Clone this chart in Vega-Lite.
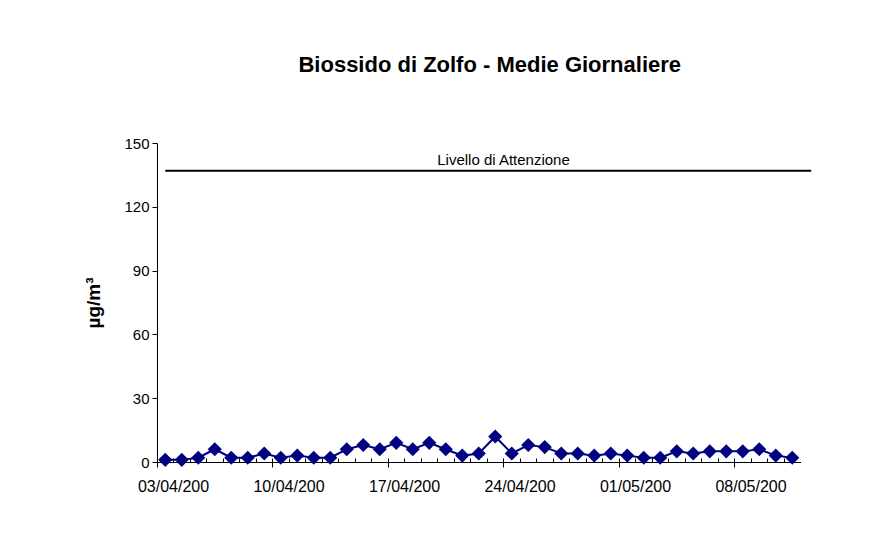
{
  "$schema": "https://vega.github.io/schema/vega-lite/v6.json",
  "autosize": "none",
  "width": 643.5,
  "height": 319,
  "padding": {"left": 157, "top": 143, "right": 82.5, "bottom": 79},
  "background": "white",
  "config": {
    "font": "Liberation Sans",
    "view": {"stroke": null},
    "axis": {"grid": false, "domainColor": "black", "tickColor": "black", "labelColor": "black", "titleColor": "black", "domainWidth": 1, "tickWidth": 1}
  },
  "title": {
    "text": "Biossido di Zolfo - Medie Giornaliere",
    "fontSize": 22,
    "fontWeight": "bold",
    "anchor": "middle",
    "frame": "group",
    "offset": 42,
    "baseline": "alphabetic",
    "dx": 11,
    "color": "black"
  },
  "datasets": {
    "so2": [
      {"data": "03/04/200", "valore": 1},
      {"data": "04/04/200", "valore": 1},
      {"data": "05/04/200", "valore": 2},
      {"data": "06/04/200", "valore": 6},
      {"data": "07/04/200", "valore": 2},
      {"data": "08/04/200", "valore": 2},
      {"data": "09/04/200", "valore": 4},
      {"data": "10/04/200", "valore": 2},
      {"data": "11/04/200", "valore": 3},
      {"data": "12/04/200", "valore": 2},
      {"data": "13/04/200", "valore": 2},
      {"data": "14/04/200", "valore": 6},
      {"data": "15/04/200", "valore": 8},
      {"data": "16/04/200", "valore": 6},
      {"data": "17/04/200", "valore": 9},
      {"data": "18/04/200", "valore": 6},
      {"data": "19/04/200", "valore": 9},
      {"data": "20/04/200", "valore": 6},
      {"data": "21/04/200", "valore": 3},
      {"data": "22/04/200", "valore": 4},
      {"data": "23/04/200", "valore": 12},
      {"data": "24/04/200", "valore": 4},
      {"data": "25/04/200", "valore": 8},
      {"data": "26/04/200", "valore": 7},
      {"data": "27/04/200", "valore": 4},
      {"data": "28/04/200", "valore": 4},
      {"data": "29/04/200", "valore": 3},
      {"data": "30/04/200", "valore": 4},
      {"data": "01/05/200", "valore": 3},
      {"data": "02/05/200", "valore": 2},
      {"data": "03/05/200", "valore": 2},
      {"data": "04/05/200", "valore": 5},
      {"data": "05/05/200", "valore": 4},
      {"data": "06/05/200", "valore": 5},
      {"data": "07/05/200", "valore": 5},
      {"data": "08/05/200", "valore": 5},
      {"data": "09/05/200", "valore": 6},
      {"data": "10/05/200", "valore": 3},
      {"data": "11/05/200", "valore": 2}
    ],
    "soglia": [
      {"inizio": 0.5, "fine": 39.65, "livello": 137, "pos": 21, "etichetta": "Livello di Attenzione"}
    ]
  },
  "resolve": {"scale": {"x": "independent"}, "axis": {"x": "independent"}},
  "layer": [
    {
      "data": {"name": "so2"},
      "mark": {"type": "line", "color": "#000080", "strokeWidth": 2},
      "encoding": {
        "x": {
          "field": "data", "type": "ordinal", "sort": null,
          "scale": {"type": "band", "paddingInner": 0, "paddingOuter": 0},
          "axis": {"orient": "bottom", "title": null, "labels": false, "bandPosition": 0, "tickSize": -4, "domain": true}
        },
        "y": {
          "field": "valore", "type": "quantitative",
          "scale": {"domain": [0, 150], "nice": false, "zero": true},
          "axis": {"values": [0, 30, 60, 90, 120, 150], "tickSize": 5, "labelPadding": 3, "labelFontSize": 15, "title": "µg/m³", "titleFontSize": 19, "titleFontWeight": "bold", "titleX": -64, "titleY": 159.5, "titleAngle": -90, "titleBaseline": "middle", "titleAlign": "center"}
        }
      }
    },
    {
      "data": {"name": "so2"},
      "mark": {"type": "point", "shape": "diamond", "filled": true, "size": 200, "color": "#000080", "opacity": 1},
      "encoding": {
        "x": {
          "field": "data", "type": "ordinal", "sort": null,
          "scale": {"type": "band", "paddingInner": 0, "paddingOuter": 0},
          "axis": {"orient": "bottom", "title": null, "values": ["03/04/200", "10/04/200", "17/04/200", "24/04/200", "01/05/200", "08/05/200"], "bandPosition": 0, "labelOffset": 8.25, "tickSize": 5, "labelPadding": 11, "labelFontSize": 16, "labelAngle": 0, "domain": true}
        },
        "y": {
          "field": "valore", "type": "quantitative",
          "scale": {"domain": [0, 150], "nice": false, "zero": true},
          "axis": {"values": [0, 30, 60, 90, 120, 150], "tickSize": 5, "labelPadding": 3, "labelFontSize": 15, "title": "µg/m³", "titleFontSize": 19, "titleFontWeight": "bold", "titleX": -64, "titleY": 159.5, "titleAngle": -90, "titleBaseline": "middle", "titleAlign": "center"}
        }
      }
    },
    {
      "data": {"name": "soglia"},
      "layer": [
        {
          "mark": {"type": "rule", "color": "black", "strokeWidth": 2},
          "encoding": {
            "x": {"field": "inizio", "type": "quantitative", "scale": {"domain": [0, 39], "nice": false, "zero": false}, "axis": null},
            "x2": {"field": "fine"},
            "y": {
              "field": "livello", "type": "quantitative",
              "scale": {"domain": [0, 150], "nice": false, "zero": true},
              "axis": {"values": [0, 30, 60, 90, 120, 150], "tickSize": 5, "labelPadding": 3, "labelFontSize": 15, "title": "µg/m³", "titleFontSize": 19, "titleFontWeight": "bold", "titleX": -64, "titleY": 159.5, "titleAngle": -90, "titleBaseline": "middle", "titleAlign": "center"}
            }
          }
        },
        {
          "mark": {"type": "text", "fontSize": 15, "baseline": "alphabetic", "align": "center", "dy": -6, "color": "black"},
          "encoding": {
            "x": {"field": "pos", "type": "quantitative", "scale": {"domain": [0, 39], "nice": false, "zero": false}, "axis": null},
            "y": {
              "field": "livello", "type": "quantitative",
              "scale": {"domain": [0, 150], "nice": false, "zero": true},
              "axis": {"values": [0, 30, 60, 90, 120, 150], "tickSize": 5, "labelPadding": 3, "labelFontSize": 15, "title": "µg/m³", "titleFontSize": 19, "titleFontWeight": "bold", "titleX": -64, "titleY": 159.5, "titleAngle": -90, "titleBaseline": "middle", "titleAlign": "center"}
            },
            "text": {"field": "etichetta"}
          }
        }
      ]
    }
  ]
}
